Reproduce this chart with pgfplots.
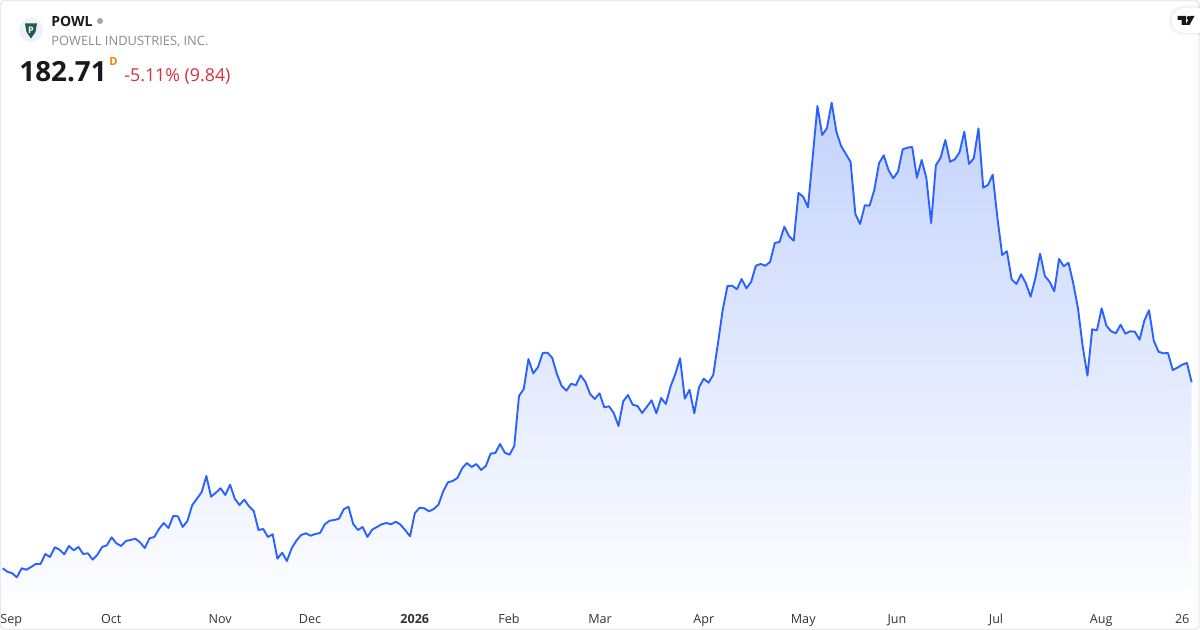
\documentclass[border=0pt]{standalone}
\usepackage{fontspec}
\setmainfont{Open Sans}
\usepackage{pgfplots}
\usepackage{pgfplotstable}
\pgfplotsset{compat=1.18}
\definecolor{tvblue}{HTML}{2962FF}
\definecolor{framec}{HTML}{E8E9EC}
\definecolor{tickc}{HTML}{333333}
\definecolor{redc}{HTML}{D6303F}
\definecolor{fillt}{HTML}{C4D3FD}
\definecolor{fillb}{HTML}{FEFEFF}
\definecolor{logobg}{HTML}{EEF1F9}
\definecolor{logog}{HTML}{1C5F4B}
\pgfplotstableread[row sep=\\]{
i h\\
0 61.7\\ 1 58.3\\ 2 56.7\\ 3 52.7\\ 4 61.7\\ 5 60.3\\ 6 63\\ 7 66\\ 8 66\\ 9 76\\
10 73\\ 11 82.7\\ 12 80.3\\ 13 75.7\\ 14 84\\ 15 79.7\\ 16 83\\ 17 76\\ 18 76.7\\ 19 70.3\\
20 75.3\\ 21 83\\ 22 84.7\\ 23 92.7\\ 24 86.7\\ 25 84\\ 26 89\\ 27 90\\ 28 91.3\\ 29 87.7\\
30 82\\ 31 91.7\\ 32 93\\ 33 101\\ 34 107\\ 35 102\\ 36 114\\ 37 113.7\\ 38 103\\ 39 109\\
40 124.7\\ 41 131.3\\ 42 137.7\\ 43 154\\ 44 133.3\\ 45 137.3\\ 46 141.7\\ 47 135\\ 48 145.3\\ 49 131.3\\
50 125\\ 51 130.3\\ 52 123.7\\ 53 119\\ 54 100\\ 55 101\\ 56 93\\ 57 95.7\\ 58 71.3\\ 59 77.3\\
60 69\\ 61 81.7\\ 62 89.3\\ 63 95\\ 64 96.7\\ 65 94.3\\ 66 96\\ 67 97\\ 68 105.7\\ 69 109.3\\
70 110\\ 71 111.3\\ 72 120.7\\ 73 123.3\\ 74 106\\ 75 100\\ 76 103\\ 77 93\\ 78 100.3\\ 79 103\\
80 105.7\\ 81 107\\ 82 105.7\\ 83 108.3\\ 84 105.3\\ 85 99.7\\ 86 93.7\\ 87 116.7\\ 88 122.3\\ 89 121.7\\
90 118.7\\ 91 121\\ 92 125.3\\ 93 138.7\\ 94 147.7\\ 95 149\\ 96 152\\ 97 161.7\\ 98 167\\ 99 163\\
100 166\\ 101 160\\ 102 164\\ 103 176.3\\ 104 177\\ 105 186\\ 106 177.3\\ 107 175.3\\ 108 184\\ 109 234\\
110 241\\ 111 271\\ 112 256.7\\ 113 262.7\\ 114 277\\ 115 277.3\\ 116 272.3\\ 117 256\\ 118 244\\ 119 239.3\\
120 246.3\\ 121 244.7\\ 122 254.7\\ 123 248.3\\ 124 236\\ 125 231\\ 126 236.7\\ 127 222.7\\ 128 223.7\\ 129 217\\
130 204\\ 131 228.7\\ 132 235\\ 133 225.3\\ 134 224\\ 135 217\\ 136 223.3\\ 137 229.7\\ 138 216.7\\ 139 232\\
140 226\\ 141 243.7\\ 142 256\\ 143 271.7\\ 144 231.3\\ 145 240.3\\ 146 216.7\\ 147 242.7\\ 148 251.3\\ 149 247.3\\
150 255\\ 151 286.7\\ 152 320\\ 153 344\\ 154 344.3\\ 155 340.7\\ 156 351\\ 157 341.7\\ 158 348\\ 159 364.3\\
160 366\\ 161 364.3\\ 162 368\\ 163 387\\ 164 388\\ 165 403.3\\ 166 394\\ 167 389.3\\ 168 437\\ 169 433.3\\
170 422.7\\ 171 473.3\\ 172 524\\ 173 495\\ 174 501.7\\ 175 527.3\\ 176 498.3\\ 177 484\\ 178 476\\ 179 468\\
180 416\\ 181 406\\ 182 424.7\\ 183 424.3\\ 184 440\\ 185 466.7\\ 186 474.7\\ 187 460\\ 188 451.7\\ 189 458.3\\
190 480.7\\ 191 482.3\\ 192 483\\ 193 452.3\\ 194 470\\ 195 451.7\\ 196 407\\ 197 464.7\\ 198 472.3\\ 199 490\\
200 468.3\\ 201 470.7\\ 202 477.7\\ 203 498.3\\ 204 466\\ 205 471.7\\ 206 501.7\\ 207 442.3\\ 208 445\\ 209 455.3\\
210 411.7\\ 211 375\\ 212 378.7\\ 213 350.7\\ 214 346\\ 215 355.7\\ 216 346.7\\ 217 333.3\\ 218 351.7\\ 219 376.3\\
220 354\\ 221 348.3\\ 222 338.7\\ 223 371\\ 224 363.7\\ 225 367.3\\ 226 346.7\\ 227 321.7\\ 228 283.3\\ 229 254.3\\
230 300.7\\ 231 299.7\\ 232 321.7\\ 233 304.3\\ 234 298.7\\ 235 296.7\\ 236 305.3\\ 237 296.3\\ 238 298.7\\ 239 298.3\\
240 290.3\\ 241 309.3\\ 242 319.7\\ 243 289.3\\ 244 278.3\\ 245 276.7\\ 246 277\\ 247 260\\ 248 262.3\\ 249 265.3\\
250 267\\ 251 247.7\\
}\powl
\begin{document}
\begin{tikzpicture}
\path[use as bounding box] (0,0) rectangle (600pt,315pt);
\begin{axis}[
  at={(0,0)},anchor=south west,
  scale only axis,width=600pt,height=315pt,
  xmin=-0.564,xmax=252.76,ymin=0,ymax=630,
  axis line style={draw=none},
  major tick style={draw=none},
  ytick=\empty,
  xtick={1.8,22.9,45.9,64.9,87,106.9,126.1,148,169,188.8,209.7,231.9,249},
  xticklabels={Sep,Oct,Nov,Dec,\textbf{2026},Feb,Mar,Apr,May,Jun,Jul,Aug,26},
  xticklabel style={font=\fontsize{6.3}{8}\selectfont,text=tickc,anchor=base,yshift=3.2pt},
  clip=false,
]
\addplot[draw=none,shade,top color=fillt,bottom color=fillb,forget plot]
  table[x=i,y=h] {\powl} -- (axis cs:251,26) -- (axis cs:0,26) -- cycle;
\addplot[tvblue,line width=0.95pt,line join=round,mark=none] table[x=i,y=h] {\powl};
\end{axis}
\begin{scope}[x=0.5pt,y=-0.5pt,shift={(0,315pt)}]
  % frame
  \draw[framec,line width=0.7pt,rounded corners=2pt] (0.5,0.5) rectangle (1199,629.5);
  % logo
  \fill[logobg] (31,30) ellipse[x radius=12,y radius=12];
  \fill[logog] (25,23.5) -- (37,23.5) -- (35.5,32) -- (31,38.5) -- (26.5,32) -- cycle;
  \node[white,font=\bfseries\fontsize{4.5}{5}\selectfont,inner sep=0] at (31,30) {P};
  % header text
  \node[anchor=base west,inner sep=0,font=\bfseries\fontsize{7}{8}\selectfont,text=black!90] at (51,27) {POWL};
  \fill[black!35] (100,21) circle[radius=3];
  \node[anchor=base west,inner sep=0,font=\fontsize{6.45}{7}\selectfont,text=black!45] at (51,46) {POWELL INDUSTRIES, INC.};
  \node[anchor=base west,inner sep=0,font=\bfseries\fontsize{13.9}{16}\selectfont,text=black!90] at (19,82) {182.71};
  \node[anchor=base west,inner sep=0,font=\bfseries\fontsize{5.6}{6}\selectfont,text=orange] at (109,66) {D};
  \node[anchor=base west,inner sep=0,font=\fontsize{8.9}{10}\selectfont,text=redc] at (124,82) {-5.11\% (9.84)};
  % tv pill with a soft shadow
  \foreach \r/\o in {16/0.012,15/0.015,14/0.02,13.2/0.025}{
    \fill[black,opacity=\o] (1200,20.5-\r) -- (1184,20.5-\r) arc[start angle=270,end angle=90,radius=\r] -- (1200,20.5+\r) -- cycle;
  }
  \fill[white] (1200,8) -- (1184,8) arc[start angle=270,end angle=90,radius=12.5] -- (1200,33) -- cycle;
  \fill[black!90] (1177.5,16) -- (1186,16) -- (1186,25) -- (1181.5,25) -- (1181.5,20) -- (1177.5,20) -- cycle;
  \fill[black!90] (1188.7,18) circle[radius=2];
  \fill[black!90] (1190.5,16) -- (1194.5,16) -- (1189.5,25) -- (1185.5,25) -- cycle;
\end{scope}
\end{tikzpicture}
\end{document}
